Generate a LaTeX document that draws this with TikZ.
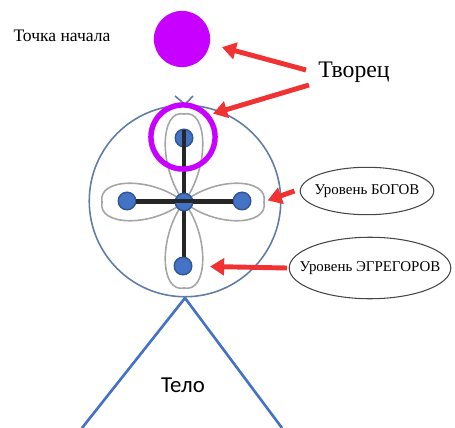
\documentclass[tikz,border=0pt]{standalone}
\usepackage{fontspec}
\setmainfont{Liberation Serif}
\newfontfamily\bodyfont{Carlito}
\usetikzlibrary{arrows.meta,shapes.geometric}

\definecolor{violetc}{RGB}{200,0,255}
\definecolor{ringblue}{RGB}{95,125,165}
\definecolor{bodyblue}{RGB}{68,114,196}
\definecolor{dotedge}{RGB}{47,85,151}
\definecolor{petalgrey}{RGB}{165,165,165}
\definecolor{arrowred}{RGB}{240,50,50}
\definecolor{ovalgrey}{RGB}{70,70,70}

\tikzset{
  chakra/.style={draw=dotedge, fill=bodyblue, circle, line width=0.8pt, minimum size=10pt, inner sep=0pt},
  petal/.style={draw=petalgrey, line width=0.9pt},
  redarrow/.style={draw=arrowred, line width=2.8pt, -{Triangle[length=8pt,width=9.5pt]}},
  level/.style={draw=ovalgrey, ellipse, line width=0.6pt, inner ysep=0pt, font=\fontsize{8.5}{10}\selectfont}
}

\begin{document}
\begin{tikzpicture}[x=0.02cm, y=-0.02cm]
        \useasboundingbox (0,0) rectangle (455,428);

        % body
        \coordinate (apex) at (185,298);
        \coordinate (footL) at (82,428);
        \coordinate (footR) at (282,428);
        \draw[bodyblue, line width=1.5pt] (footL) -- (apex) -- (footR);
        \node[font=\bodyfont\fontsize{13}{15}\selectfont] (body) at (183,385) {Тело};

        % head
        \node[draw=ringblue, circle, line width=0.9pt, minimum size=109pt] (head) at (185,201) {};
        \draw[ringblue, line width=0.9pt] (175,96) -- (head.north) -- (193,96);

        % petals
        \coordinate (c) at (184,202);
        \foreach \a/\l in {0/80, 90/88, 180/82, 270/86}
          \draw[petal, shift={(c)}, rotate=\a]
            (0,0) .. controls (0.4*\l,26) and (1.06*\l,24) .. (\l,0)
                  .. controls (1.06*\l,-24) and (0.4*\l,-26) .. (0,0);
        \coordinate (pR) at (266,201);

        % cross
        \draw[black!85, line width=2.6pt] (184,130) -- (184,266);
        \draw[black!85, line width=2.6pt] (128,202) -- (240,202);

        % chakras
        \node[chakra] (dT) at (184,138) {};
        \node[chakra] (dL) at (127,201) {};
        \node[chakra] (dR) at (242,201) {};
        \node[chakra] (dC) at (184,202) {};
        \node[chakra] (dB) at (183,266) {};
        \draw[black!85, line width=2.6pt] (184,130) -- (dC);
        \draw[black!85, line width=2.6pt] (dL) -- (dR);

        % creator
        \node[draw=violetc, circle, line width=3.1pt, minimum size=36.5pt] (ring) at (183,137) {};
        \node[fill=violetc, circle, minimum size=32pt, inner sep=0pt] (point) at (182,39) {};
        \node (start) at (62,36) {Точка начала};
        \node[font=\fontsize{13.5}{16}\selectfont] (creator) at (354,72) {Творец};
        \coordinate (tv1) at (306,70);
        \coordinate (tv2) at (309,85);
        \draw[redarrow, shorten >=7pt] (tv1) -- (point.-10);
        \draw[redarrow, shorten >=2pt] (tv2) -- (ring.40);

        % levels
        \node[level, inner xsep=-3pt, minimum width=76pt, minimum height=27pt] (gods) at (367,191) {Уровень БОГОВ};
        \node[level, inner xsep=-8pt, minimum width=92pt, minimum height=35pt] (egreg) at (370,268) {Уровень ЭГРЕГОРОВ};
        \draw[redarrow, shorten >=1pt] ([xshift=-3pt]gods.west) -- (pR);
        \draw[redarrow, shorten >=10pt] ([xshift=-1pt]egreg.west) -- (dB);
\end{tikzpicture}
\end{document}
